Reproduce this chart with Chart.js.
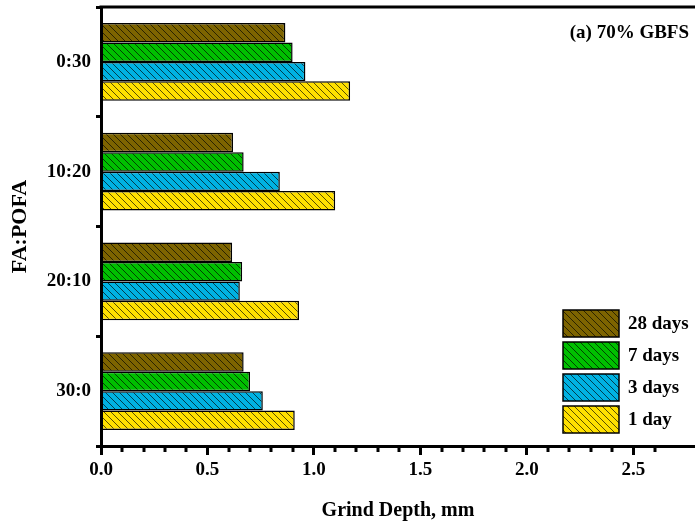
<!DOCTYPE html>
<html>
<head>
<meta charset="utf-8">
<script src="https://cdn.jsdelivr.net/npm/chart.js@4.4.1/dist/chart.umd.min.js"></script>
<style>
    html, body { margin: 0; padding: 0; background: #fff; overflow: hidden; }
    #wrap { width: 695px; height: 523px; position: relative; }
</style>
</head>
<body>
<div id="wrap"><canvas id="grind-chart"></canvas></div>
<script>
// Data
const categories = ["0:30", "10:20", "20:10", "30:0"];
const series_labels = ["28 days", "7 days", "3 days", "1 day"];
const days_28 = [0.866, 0.62, 0.616, 0.67];
const days_7 = [0.90, 0.67, 0.663, 0.70];
const days_3 = [0.96, 0.84, 0.652, 0.76];
const days_1 = [1.17, 1.10, 0.93, 0.91];
const series_colors = ["#7d6400", "#00bf00", "#00b2e2", "#ffe000"];

const SERIF = "'Liberation Serif', 'Times New Roman', serif";

function makeHatch(color) {
    const c = document.createElement("canvas");
    c.width = 7;
    c.height = 7;
    const g = c.getContext("2d");
    g.fillStyle = color;
    g.fillRect(0, 0, 7, 7);
    g.strokeStyle = "rgba(0,0,0,0.65)";
    g.lineWidth = 1;
    [-7, 0, 7].forEach(x0 => {
        g.beginPath();
        g.moveTo(x0, 0);
        g.lineTo(x0 + 7, 7);
        g.stroke();
    });
    return g.createPattern(c, "repeat");
}

function isMajor(v) {
    return Math.abs(v * 2 - Math.round(v * 2)) < 1e-6;
}

const decorations = {
    id: "decorations",
    afterDraw(chart) {
        const ctx = chart.ctx;
        const area = chart.chartArea;
        const xs = chart.scales.x;
        ctx.save();
        ctx.strokeStyle = "#000";

        // top frame line
        ctx.lineWidth = 3;
        ctx.beginPath();
        ctx.moveTo(area.left - 1.5, area.top);
        ctx.lineTo(area.right, area.top);
        ctx.stroke();

        // minor ticks on x axis
        xs.ticks.forEach(t => {
            if (isMajor(t.value)) return;
            const px = Math.round(xs.getPixelForValue(t.value));
            ctx.beginPath();
            ctx.moveTo(px, area.bottom);
            ctx.lineTo(px, area.bottom + 6);
            ctx.stroke();
        });

        // panel label
        ctx.fillStyle = "#000";
        ctx.font = "bold 19px " + SERIF;
        ctx.textAlign = "right";
        ctx.textBaseline = "middle";
        ctx.fillText("(a) 70% GBFS", 689, 33);

        // legend
        const boxX = 563, boxW = 56, boxH = 27;
        let top = 310;
        ctx.textAlign = "left";
        chart.data.datasets.forEach(ds => {
            ctx.fillStyle = ds.backgroundColor;
            ctx.fillRect(boxX, top, boxW, boxH);
            ctx.lineWidth = 1.5;
            ctx.strokeRect(boxX, top, boxW, boxH);
            ctx.fillStyle = "#000";
            ctx.fillText(ds.label, 628, top + boxH / 2 + 1);
            top += 32;
        });
        ctx.restore();
    }
};

window.addEventListener("load", () => {
    const all_values = [days_28, days_7, days_3, days_1];
    const datasets = series_labels.map((label, i) => ({
        label: label,
        data: all_values[i],
        backgroundColor: makeHatch(series_colors[i]),
        borderColor: "#000",
        borderWidth: 1.5,
        borderSkipped: false,
        categoryPercentage: 0.71,
        barPercentage: 1.0
    }));

    new Chart(document.getElementById("grind-chart"), {
        type: "bar",
        data: { labels: categories, datasets: datasets },
        options: {
            indexAxis: "y",
            responsive: true,
            maintainAspectRatio: false,
            animation: false,
            layout: { padding: { left: 0, right: 0, top: 7, bottom: 0 } },
            plugins: {
                legend: { display: false },
                tooltip: { enabled: false }
            },
            scales: {
                x: {
                    type: "linear",
                    min: 0,
                    max: 2.79,
                    afterBuildTicks: (scale) => {
                        scale.ticks = scale.ticks.filter(t => Math.abs(t.value * 10 - Math.round(t.value * 10)) < 1e-6);
                    },
                    afterFit: (scale) => {
                        scale.height = 77;
                        scale.paddingLeft = 0;
                        scale.paddingRight = 0;
                    },
                    ticks: {
                        stepSize: 0.1,
                        autoSkip: false,
                        maxRotation: 0,
                        padding: 4,
                        color: "#000",
                        font: { family: SERIF, size: 19, weight: "bold" },
                        callback: (v) => isMajor(v) ? v.toFixed(1) : ""
                    },
                    grid: {
                        display: true,
                        drawOnChartArea: false,
                        drawTicks: true,
                        tickLength: 9,
                        tickWidth: 3,
                        tickColor: (c) => (c.tick && isMajor(c.tick.value)) ? "#000" : "rgba(0,0,0,0)"
                    },
                    border: { display: true, width: 3, color: "#000" },
                    title: {
                        display: true,
                        text: "Grind Depth, mm",
                        color: "#000",
                        font: { family: SERIF, size: 20, weight: "bold" },
                        padding: { top: 5, bottom: 0 }
                    }
                },
                y: {
                    afterFit: (scale) => {
                        scale.width = 101;
                        scale.paddingTop = 0;
                        scale.paddingBottom = 0;
                    },
                    ticks: {
                        padding: 5,
                        color: "#000",
                        font: { family: SERIF, size: 19, weight: "bold" }
                    },
                    grid: {
                        display: true,
                        offset: true,
                        drawOnChartArea: false,
                        drawTicks: true,
                        tickLength: 5,
                        tickWidth: 3,
                        tickColor: "#000"
                    },
                    border: { display: true, width: 3, color: "#000" },
                    title: {
                        display: true,
                        text: "FA:POFA",
                        color: "#000",
                        font: { family: SERIF, size: 22, weight: "bold" },
                        padding: { top: 7, bottom: 0 }
                    }
                }
            }
        },
        plugins: [decorations]
    });
});
</script>
</body>
</html>
